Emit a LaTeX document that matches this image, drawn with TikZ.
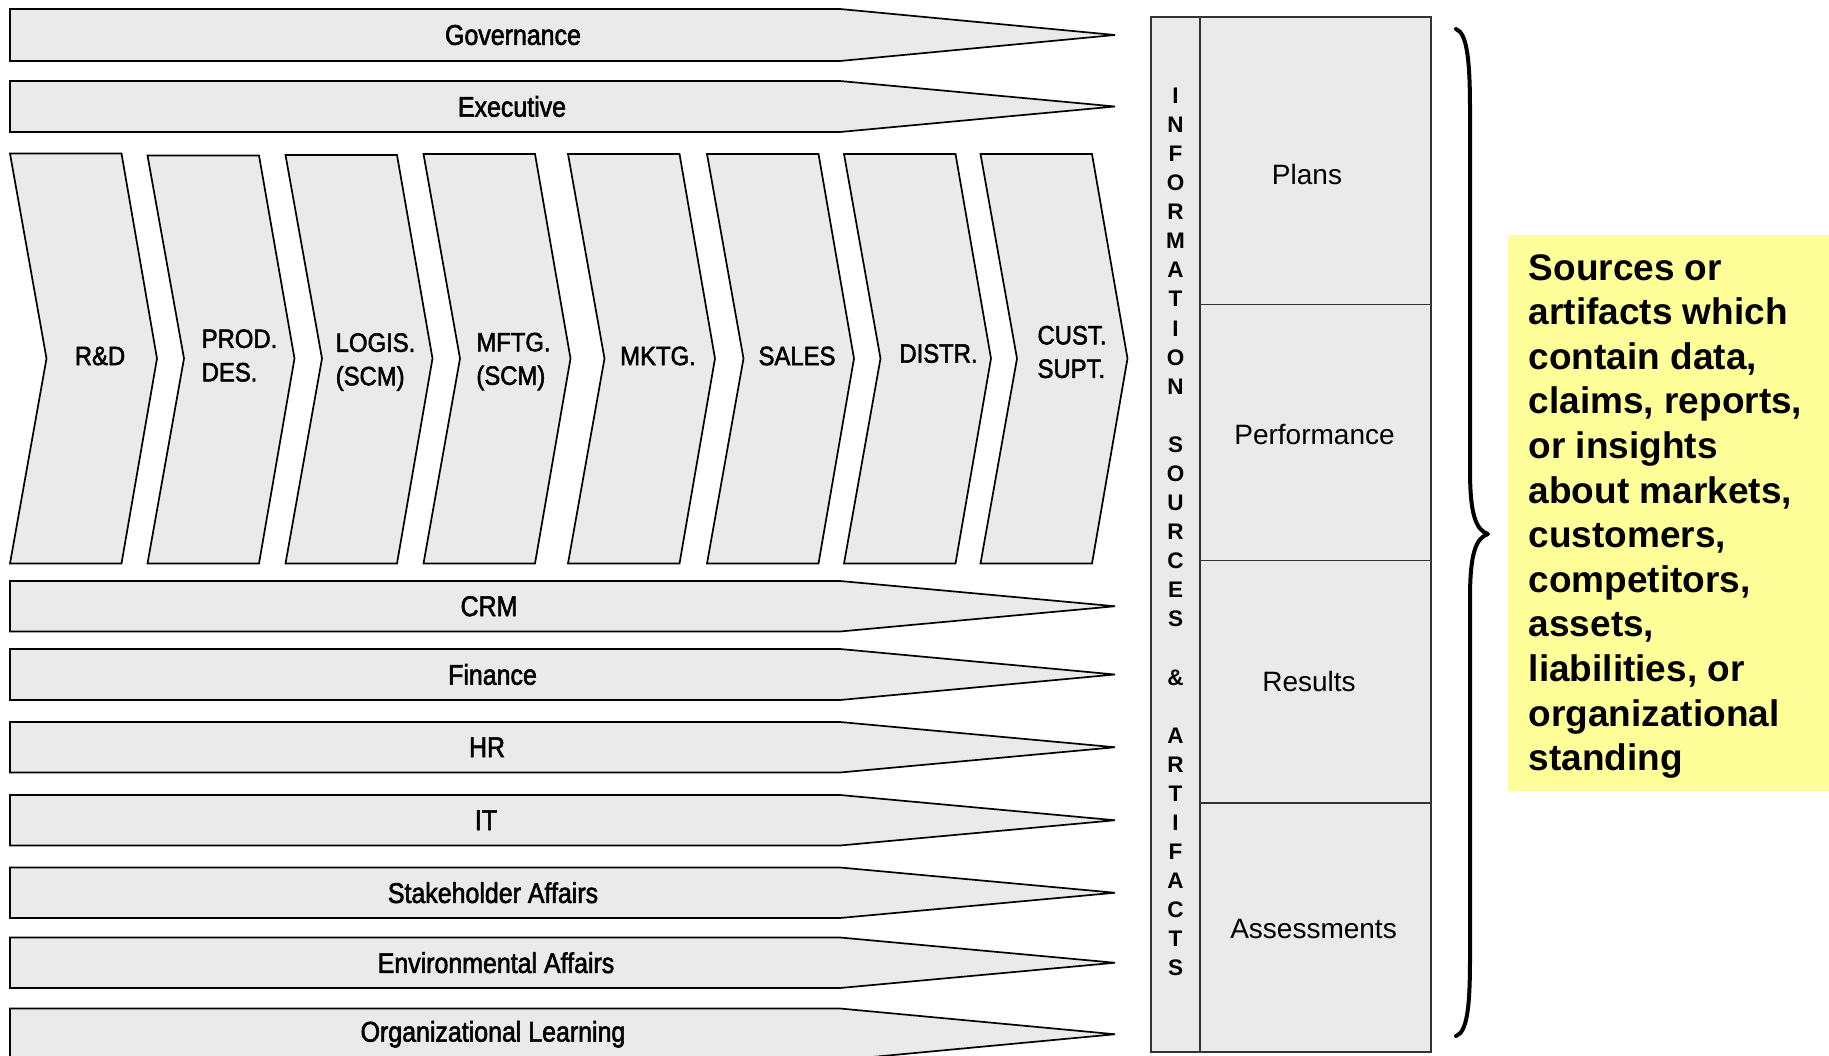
\documentclass[tikz,border=0pt]{standalone}
\usepackage{fontspec}
\setmainfont{Liberation Sans}
\newfontfamily\narrowfont[FakeStretch=0.9,FakeBold=2]{Liberation Sans}
\newfontfamily\bandfont[FakeStretch=0.875,FakeBold=2]{Liberation Sans}
\definecolor{panelgray}{HTML}{EAEAEA}
\definecolor{noteyellow}{HTML}{FFFF99}
\definecolor{gridline}{HTML}{333333}

% chevron stage: #1 left x, #2 top y, #3 node name, #4 label x offset, #5 label y, #6 label
\newcommand\stagechev[6]{%
  \draw[chevshape] (#1,#2) -- (#1+111.5,#2) -- (#1+147,358.5) -- (#1+111.5,563.5)
     -- (#1,563.5) -- (#1+36.5,358.5) -- cycle;
  \node[chevlabel] (#3) at (#1+90+#4,#5) {#6};}

% horizontal band with pointed end: #1 top, #2 bottom, #3 label x, #4 name, #5 label
\newcommand\sideband[5]{%
  \draw[bandshape] (10,#1) -- (840,#1) -- (1115,{(#1+#2)/2}) -- (840,#2) -- (10,#2) -- cycle;
  \node[bandlabel] (#4) at (#3,{(#1+#2)/2}) {#5};}

\begin{document}
\begin{tikzpicture}[x=1pt,y=-1pt,
  chevshape/.style={fill=panelgray, draw=black, line width=1.7pt, line join=miter},
  bandshape/.style={fill=panelgray, draw=black, line width=1.7pt, line join=miter},
  chevlabel/.style={inner sep=0pt, align=left, text=black,
    font=\narrowfont\fontsize{26.5}{33.5}\selectfont},
  bandlabel/.style={inner sep=0pt, text=black,
    font=\bandfont\fontsize{28.5}{33}\selectfont},
  celllabel/.style={inner sep=0pt, text=black, font=\fontsize{28}{33}\selectfont},
  panelline/.style={draw=gridline, line width=1.5pt},
]
\useasboundingbox (0,0) rectangle (1829,1056);
\clip (0,0) rectangle (1829,1056);

% horizontal support functions
\sideband{9}{61}{513}{gov}{Governance}
\sideband{81}{132}{512}{exec}{Executive}
\sideband{581}{631.5}{489}{crm}{CRM}
\sideband{649}{700}{492.5}{fin}{Finance}
\sideband{722}{772.5}{487}{hr}{HR}
\sideband{795}{845.5}{486}{it}{IT}
\sideband{867.5}{918}{493}{stake}{Stakeholder Affairs}
\sideband{937.5}{988}{496}{env}{Environmental Affairs}
\sideband{1008.5}{1060}{493}{learn}{Organizational Learning}

% value chain stages
\stagechev{10}{153.5}{rd}{0}{356}{R\&D}
\stagechev{147.5}{155.5}{prod}{2}{355.5}{PROD.\\DES.}
\stagechev{285.5}{155}{logis}{0}{362}{LOGIS.\\(SCM)}
\stagechev{423.5}{154}{mftg}{0}{361.5}{MFTG.\\(SCM)}
\stagechev{568}{154}{mktg}{0}{356}{MKTG.}
\stagechev{707}{154}{sales}{0}{356}{SALES}
\stagechev{844}{154}{distr}{4.5}{353.5}{DISTR.}
\stagechev{980.5}{154}{cust}{1.5}{352}{CUST.\\SUPT.}

% information sources panel
\fill[panelgray] (1151,16.8) rectangle (1431,1052);
\draw[panelline] (1151,16.8) rectangle (1431,1052);
\draw[panelline] (1200,16.8) -- (1200,1052);
\draw[panelline] (1200,304.5) -- (1431,304.5);
\draw[panelline] (1200,560.3) -- (1431,560.3);
\draw[panelline] (1200,803) -- (1431,803);

\node[inner sep=0pt, align=center, font=\bfseries\fontsize{22.5}{29.08}\selectfont] (vert)
  at (1175.5,532)
  {I\\N\\F\\O\\R\\M\\A\\T\\I\\O\\N\\\phantom{I}\\S\\O\\U\\R\\C\\E\\S\\\phantom{I}\\\&\\\phantom{I}\\A\\R\\T\\I\\F\\A\\C\\T\\S};

\node[celllabel] (plans) at (1307,174) {Plans};
\node[celllabel] (perf) at (1314.5,435) {Performance};
\node[celllabel] (results) at (1309,681) {Results};
\node[celllabel] (assess) at (1313.5,928.5) {Assessments};

% grouping brace
\draw[line width=4pt, line cap=round, line join=round]
  (1456,29) .. controls (1467,33) and (1470,60) .. (1470,110)
  -- (1470,470) .. controls (1470,515) and (1476,530) .. (1488,534)
  .. controls (1476,538) and (1470,553) .. (1470,598)
  -- (1470,958) .. controls (1470,1008) and (1467,1032) .. (1456,1036);

% explanatory note
\fill[noteyellow] (1508,235) rectangle (1835,790.5);
\node[anchor=north west, inner sep=0pt, align=left,
  font=\bfseries\fontsize{37}{44.6}\selectfont] (note) at (1528.5,254)
  {Sources or\\artifacts which\\contain data,\\claims, reports,\\or insights\\about markets,\\customers,\\competitors,\\assets,\\liabilities, or\\organizational\\standing};
\end{tikzpicture}
\end{document}
